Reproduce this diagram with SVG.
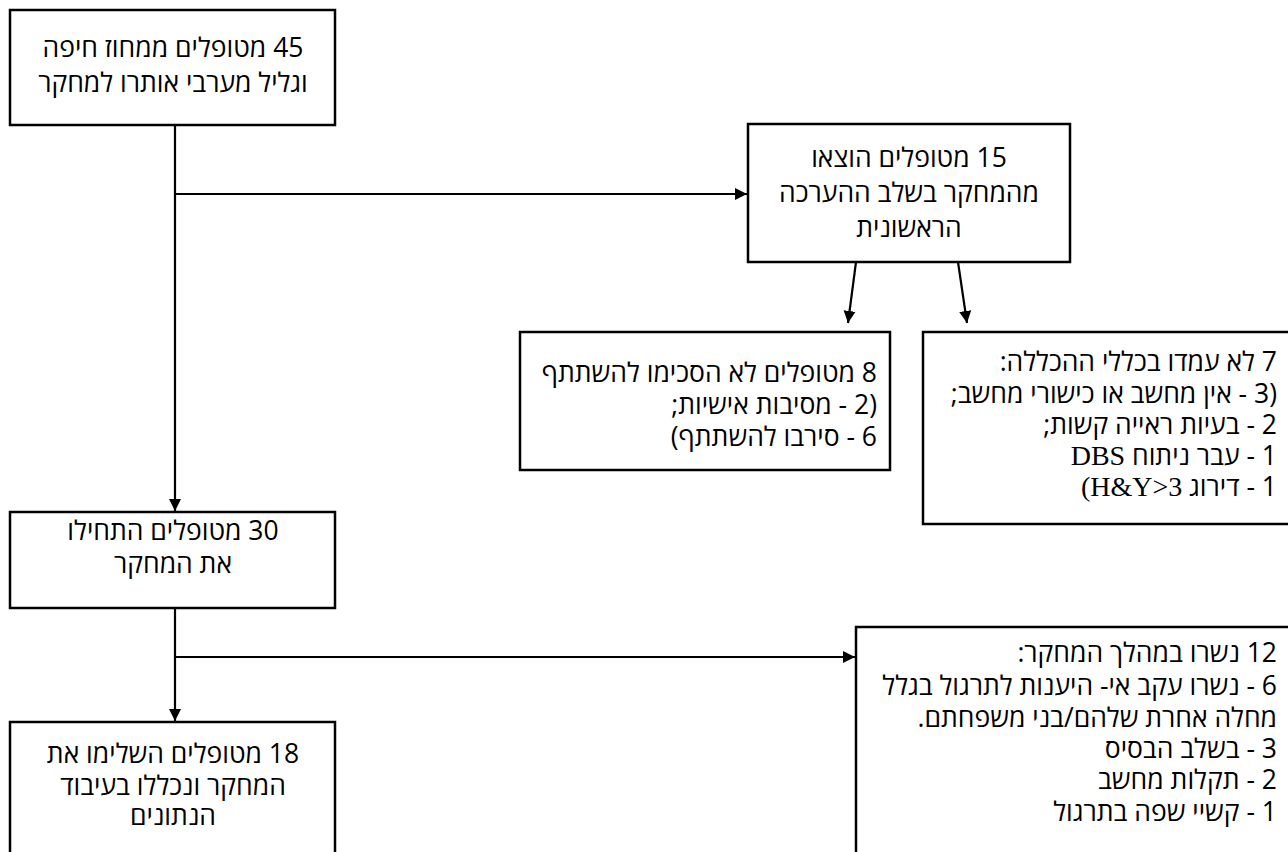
<svg xmlns="http://www.w3.org/2000/svg" width="1288" height="852" viewBox="0 0 1288 852">
<style>
.box{fill:#fff;stroke:#000;stroke-width:2.5}
.t{font-family:"Open Sans","DejaVu Sans",sans-serif;font-size:26.5px;fill:#000;direction:rtl}
.c{text-anchor:middle}
.r{text-anchor:start}
.s{font-family:"Liberation Serif","Times New Roman",serif;font-size:28px}
.ln{stroke:#000;stroke-width:2.2;fill:none}
</style>
<defs>
<marker id="ah" viewBox="0 0 10 10" refX="10" refY="5" markerWidth="5.5" markerHeight="6" markerUnits="strokeWidth" orient="auto">
<path d="M0,0 L10,5 L0,10 z" fill="#000"/>
</marker>
</defs>
<rect width="1288" height="852" fill="#fff"/>
<g id="connectors">
<line class="ln" x1="175" y1="125" x2="175" y2="511" marker-end="url(#ah)"/>
<line class="ln" x1="175" y1="194" x2="747" y2="194" marker-end="url(#ah)"/>
<line class="ln" x1="856" y1="262" x2="848" y2="323" marker-end="url(#ah)"/>
<line class="ln" x1="958" y1="262" x2="967" y2="323" marker-end="url(#ah)"/>
<line class="ln" x1="175" y1="608" x2="175" y2="721" marker-end="url(#ah)"/>
<line class="ln" x1="175" y1="657" x2="855" y2="657" marker-end="url(#ah)"/>
</g>
<g id="n45">
<rect class="box" x="10" y="10" width="325" height="115"/>
<text class="t c" x="173" y="57">45 מטופלים ממחוז חיפה</text>
<text class="t c" x="173" y="92">וגליל מערבי אותרו למחקר</text>
</g>
<g id="n15">
<rect class="box" x="748" y="124" width="322" height="138"/>
<text class="t c" x="909" y="167">15 מטופלים הוצאו</text>
<text class="t c" x="909" y="202">מהמחקר בשלב ההערכה</text>
<text class="t c" x="909" y="237">הראשונית</text>
</g>
<g id="n8">
<rect class="box" x="520" y="332" width="370" height="138"/>
<text class="t r" x="877" y="382">8 מטופלים לא הסכימו להשתתף</text>
<text class="t r" x="877" y="414">(2 - מסיבות אישיות;</text>
<text class="t r" x="877" y="446">6 - סירבו להשתתף)</text>
</g>
<g id="n7">
<rect class="box" x="923" y="332" width="380" height="192"/>
<text class="t r" x="1277" y="371">7 לא עמדו בכללי ההכללה:</text>
<text class="t r" x="1277" y="403">(3 - אין מחשב או כישורי מחשב;</text>
<text class="t r" x="1277" y="434">2 - בעיות ראייה קשות;</text>
<text class="t r" x="1277" y="465">1 - עבר ניתוח <tspan class="s">DBS</tspan></text>
<text class="t r" x="1277" y="496">1 - דירוג <tspan class="s">H&amp;Y&gt;3)</tspan></text>
</g>
<g id="n30">
<rect class="box" x="10" y="512" width="325" height="96"/>
<text class="t c" x="173" y="540">30 מטופלים התחילו</text>
<text class="t c" x="173" y="573">את המחקר</text>
</g>
<g id="n12">
<rect class="box" x="856" y="627" width="450" height="240"/>
<text class="t r" x="1277" y="662">12 נשרו במהלך המחקר:</text>
<text class="t r" x="1277" y="695">6 - נשרו עקב אי- היענות לתרגול בגלל</text>
<text class="t r" x="1277" y="727">מחלה אחרת שלהם/בני משפחתם.</text>
<text class="t r" x="1277" y="758">3 - בשלב הבסיס</text>
<text class="t r" x="1277" y="789">2 - תקלות מחשב</text>
<text class="t r" x="1277" y="821">1 - קשיי שפה בתרגול</text>
</g>
<g id="n18">
<rect class="box" x="10" y="722" width="325" height="145"/>
<text class="t c" x="173" y="763">18 מטופלים השלימו את</text>
<text class="t c" x="173" y="795">המחקר ונכללו בעיבוד</text>
<text class="t c" x="173" y="825">הנתונים</text>
</g>
</svg>
